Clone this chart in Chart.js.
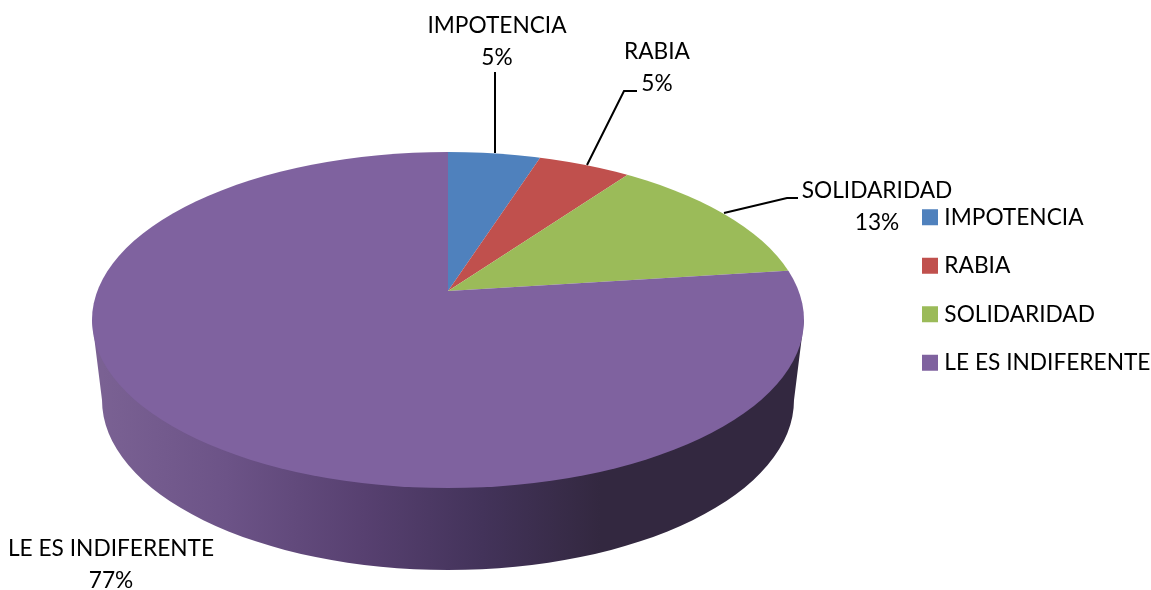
<!DOCTYPE html>
<html>
<head>
<meta charset="utf-8">
<title>Pie</title>
<style>
html, body { margin: 0; padding: 0; background: #fff; }
#wrap { width: 1151px; height: 590px; }
</style>
<script src="https://cdn.jsdelivr.net/npm/chart.js@4/dist/chart.umd.min.js"></script>
</head>
<body>
<div id="wrap"><canvas id="pie" width="1151" height="590"></canvas></div>
<script>
const categories = ['IMPOTENCIA', 'RABIA', 'SOLIDARIDAD', 'LE ES INDIFERENTE'];
const percents = [5, 5, 13, 77];
const sliceColors = ['#4f81bd', '#c0504d', '#9bbb59', '#7f629f'];

const FONT = 'Lato, "Open Sans", sans-serif';
const FONT_SIZE = 22.7;

// the wedges meet above the middle of the top face (perspective in the original)
const apex = { x: 448, y: 291, squash: 0.47 };
const face = { x: 448, y: 320, rx: 356, ry: 168 };
const rim = { x: 448, y: 400, rx: 346, ry: 170 };

// label centres and leader lines, same order as categories
const labelSpots = [
    { x: 497, y: 26, line: [[495, 72], [495, 153]] },
    { x: 657, y: 52, line: [[637, 91], [624, 91], [587, 165]] },
    { x: 877, y: 191, line: [[798, 198], [787, 198], [724, 213]] },
    { x: 111, y: 549, line: null }
];

const wallPlugin = {
    id: 'wall',
    beforeDatasetsDraw(chart) {
        const ctx = chart.ctx;
        const grad = ctx.createLinearGradient(rim.x - rim.rx, 0, rim.x + rim.rx, 0);
        grad.addColorStop(0, '#7a6193');
        grad.addColorStop(0.18, '#6c5387');
        grad.addColorStop(0.38, '#574070');
        grad.addColorStop(0.55, '#43335a');
        grad.addColorStop(0.72, '#332840');
        grad.addColorStop(1, '#332840');
        ctx.save();
        ctx.beginPath();
        ctx.moveTo(face.x - face.rx, face.y);
        ctx.lineTo(rim.x - rim.rx, rim.y);
        ctx.ellipse(rim.x, rim.y, rim.rx, rim.ry, 0, Math.PI, 0, true);
        ctx.lineTo(face.x + face.rx, face.y);
        ctx.closePath();
        ctx.fillStyle = grad;
        ctx.fill();
        ctx.restore();
    }
};

const facePlugin = {
    id: 'face',
    beforeDatasetDraw(chart, args) {
        const ctx = chart.ctx;
        const arc = args.meta.data[0];
        ctx.save();
        ctx.beginPath();
        ctx.ellipse(face.x, face.y, face.rx, face.ry, 0, 0, Math.PI * 2);
        ctx.clip();
        ctx.translate(apex.x, apex.y);
        ctx.scale(1, apex.squash);
        ctx.translate(-arc.x, -arc.y);
    },
    afterDatasetDraw(chart) {
        chart.ctx.restore();
    }
};

const labelPlugin = {
    id: 'sliceLabels',
    afterDraw(chart) {
        const ctx = chart.ctx;
        ctx.save();
        ctx.fillStyle = '#000';
        ctx.strokeStyle = '#000';
        ctx.lineWidth = 2;
        ctx.font = FONT_SIZE + 'px ' + FONT;
        ctx.textAlign = 'center';
        ctx.textBaseline = 'middle';
        categories.forEach((name, i) => {
            const spot = labelSpots[i];
            ctx.fillText(name, spot.x, spot.y);
            ctx.fillText(percents[i] + '%', spot.x, spot.y + 32);
            if (spot.line) {
                ctx.beginPath();
                spot.line.forEach((p, j) => j ? ctx.lineTo(p[0], p[1]) : ctx.moveTo(p[0], p[1]));
                ctx.stroke();
            }
        });
        ctx.restore();
    }
};

new Chart(document.getElementById('pie'), {
    type: 'pie',
    data: {
        labels: categories,
        datasets: [{
            data: percents,
            backgroundColor: sliceColors,
            borderWidth: 0,
            radius: 440,
            clip: false
        }]
    },
    options: {
        responsive: false,
        animation: false,
        layout: { padding: { bottom: 10 } },
        plugins: {
            tooltip: { enabled: false },
            legend: {
                position: 'right',
                maxWidth: 249.8,
                labels: {
                    color: '#000',
                    font: { family: FONT, size: FONT_SIZE },
                    usePointStyle: true,
                    pointStyle: 'rect',
                    boxWidth: 6,
                    boxHeight: 16,
                    padding: 25.8
                }
            }
        }
    },
    plugins: [wallPlugin, facePlugin, labelPlugin]
});
</script>
</body>
</html>
